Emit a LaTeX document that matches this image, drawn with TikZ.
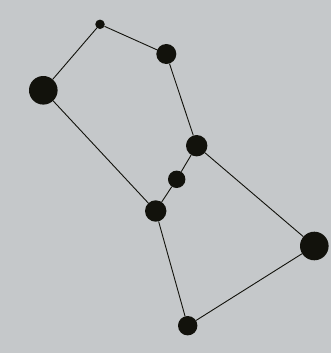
\documentclass[tikz,border=0pt]{standalone}
\usetikzlibrary{backgrounds}
\definecolor{bg}{HTML}{C5C8CA}
\definecolor{dot}{HTML}{12120C}
\tikzset{
  vert/.style={circle, fill=dot, inner sep=0pt, minimum size=#1},
  edge/.style={draw=dot, line width=0.9pt}
}
\begin{document}
\begin{tikzpicture}[x=1pt,y=-1pt]
\useasboundingbox (0,0) rectangle (331,353);
\node[vert=9.5pt] (a) at (100,24.3) {};
\node[vert=20pt] (b) at (166.3,54) {};
\node[vert=28.6pt] (c) at (43.3,90.3) {};
\node[vert=21.4pt] (d) at (196.7,145.7) {};
\node[vert=17.4pt] (e) at (176.7,179.3) {};
\node[vert=21.4pt] (f) at (155.7,211) {};
\node[vert=28.6pt] (g) at (314.3,246) {};
\node[vert=19.4pt] (h) at (187.7,325.7) {};
\begin{scope}[on background layer]
\fill[bg] (0,0) rectangle (331,353);
\draw[edge] (a) -- (b);
\draw[edge] (a) -- (c);
\draw[edge] (b) -- (d);
\draw[edge] (c) -- (f);
\draw[edge] (d) -- (e);
\draw[edge] (e) -- (f);
\draw[edge] (d) -- (g);
\draw[edge] (f) -- (h);
\draw[edge] (h) -- (g);
\end{scope}
\end{tikzpicture}
\end{document}
